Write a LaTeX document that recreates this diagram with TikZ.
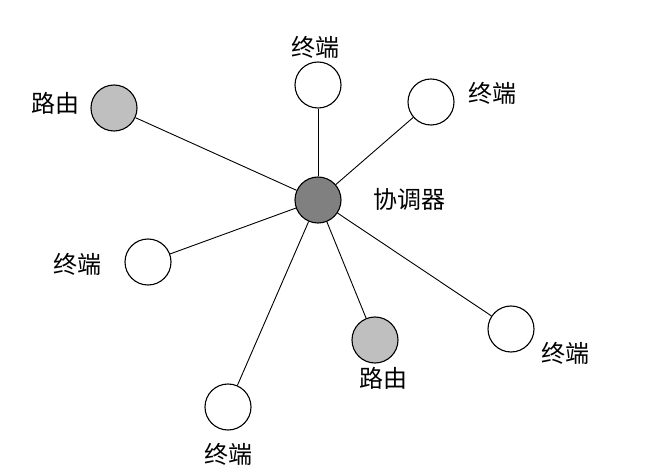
\documentclass[tikz,border=0pt]{standalone}
\usepackage{fontspec}
\setmainfont{Noto Sans CJK SC}
\begin{document}
\begin{tikzpicture}[x=1pt, y=-1pt,
  every node/.style={font=\fontsize{24}{26}\selectfont},
  dev/.style={circle, draw, line width=1.1pt, minimum size=46pt, inner sep=0pt, fill=white},
  coordnode/.style={dev, fill=black!50},
  routenode/.style={dev, fill=black!25},
  link/.style={line width=0.9pt}]

  \useasboundingbox (0,0) rectangle (649,468);

  \node[coordnode] (C) at (318,200) {};
  \node[routenode] (R1) at (114,108) {};
  \node[routenode] (R2) at (375,340) {};
  \node[dev] (T1) at (318,85) {};
  \node[dev] (T2) at (431,102) {};
  \node[dev] (T3) at (148,262) {};
  \node[dev] (T4) at (511,329) {};
  \node[dev] (T5) at (228,407) {};

  % labels
  \node (lc)  at (409,199) {协调器};
  \node (lr1) at (55,103)  {路由};
  \node (lr2) at (383,378) {路由};
  \node (lt1) at (315,47)  {终端};
  \node (lt2) at (492,93)  {终端};
  \node (lt3) at (77,264)  {终端};
  \node (lt4) at (565,353) {终端};
  \node (lt5) at (228,454) {终端};

  \foreach \n in {R1,R2,T1,T2,T3,T4,T5}
    \draw[link] (C) -- (\n);
\end{tikzpicture}
\end{document}
